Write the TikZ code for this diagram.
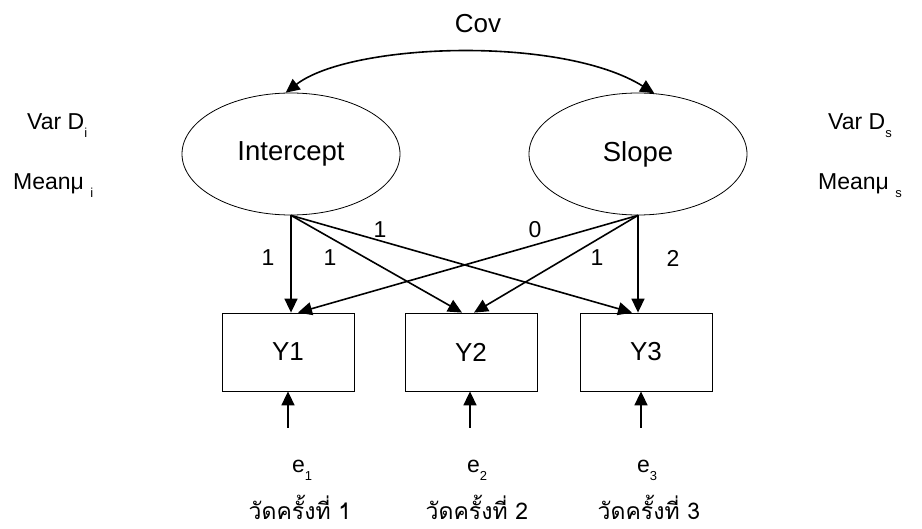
\documentclass[tikz,border=0pt]{standalone}
\usepackage{fontspec}
\setmainfont{Liberation Sans}
\newfontfamily\thaifont[Script=Thai]{Loma}
\usetikzlibrary{arrows.meta,shapes.geometric}
\newcommand{\mysub}[1]{\raisebox{-0.33em}{\fontsize{13}{13}\selectfont #1}}
\begin{document}
\begin{tikzpicture}[x=1pt,y=-1pt,
  lat/.style={draw,ellipse,line width=0.8pt,minimum width=218pt,minimum height=122pt,inner sep=0pt,font=\fontsize{27.5}{30}\selectfont},
  obs/.style={draw,rectangle,line width=0.8pt,minimum width=132pt,minimum height=78pt,inner sep=0pt,font=\fontsize{26}{28}\selectfont},
  lbl/.style={font=\fontsize{23}{25}\selectfont,inner sep=0pt},
  arr/.style={line width=1.6pt,-{Triangle[length=14pt,width=13pt]}},
  thai/.style={font=\thaifont\fontsize{23}{25}\selectfont,inner sep=0pt,anchor=base}]
\useasboundingbox (0,0) rectangle (922,529);
% latent factors
\node[lat] (int) at (291,154) {Intercept};
\node[lat] (slp) at (638,154) {Slope};
% observed
\node[obs] (y1) at (288,352) {Y1};
\node[obs] (y2) at (471,352) {Y2};
\node[obs] (y3) at (646,352) {Y3};
% covariance
\node[lbl,font=\fontsize{26}{28}\selectfont] (cov) at (478,24) {Cov};
\draw[line width=1.6pt,{Triangle[length=14pt,width=13pt]}-{Triangle[length=14pt,width=13pt]}]
  (int.95) .. controls +(65,-50) and +(-93,-58) .. (slp.75);
% variance / mean labels
\node[lbl,anchor=base west] (vari) at (27,130) {Var D\mysub{i}};
\node[lbl,anchor=base west] (meani) at (13,190) {Meanμ \mysub{i}};
\node[lbl,anchor=base west] (vars) at (828,130) {Var D\mysub{s}};
\node[lbl,anchor=base west] (means) at (818,190) {Meanμ \mysub{s}};
% loadings
\draw[arr] (int.south) -- (int.south |- y1.north);
\draw[arr] (int.south) -- ([xshift=-9pt]y2.north);
\draw[arr] (int.south) -- ([xshift=-14pt]y3.north);
\draw[arr] (slp.south) -- ([xshift=10pt]y1.north);
\draw[arr] (slp.south) -- ([xshift=3pt]y2.north);
\draw[arr] (slp.south) -- (slp.south |- y3.north);
\node[lbl] (l1) at (268,258) {1};
\node[lbl] (l2) at (330,258) {1};
\node[lbl] (l3) at (380,230) {1};
\node[lbl] (l4) at (535,230) {0};
\node[lbl] (l5) at (597,258) {1};
\node[lbl] (l6) at (673,258) {2};
% errors
\coordinate (c1) at (288,428);
\coordinate (c2) at (470,428);
\coordinate (c3) at (641,428);
\draw[arr] (c1) -- (c1 |- y1.south);
\draw[arr] (c2) -- (c2 |- y2.south);
\draw[arr] (c3) -- (c3 |- y3.south);
\node[lbl,anchor=base west] (e1) at (292,473) {e\mysub{1}};
\node[lbl,anchor=base west] (e2) at (467,473) {e\mysub{2}};
\node[lbl,anchor=base west] (e3) at (637,473) {e\mysub{3}};
\node[thai] (t1) at (300,519) {วัดครั้งที่ 1};
\node[thai] (t2) at (477,519) {วัดครั้งที่ 2};
\node[thai] (t3) at (649,519) {วัดครั้งที่ 3};
\end{tikzpicture}
\end{document}
